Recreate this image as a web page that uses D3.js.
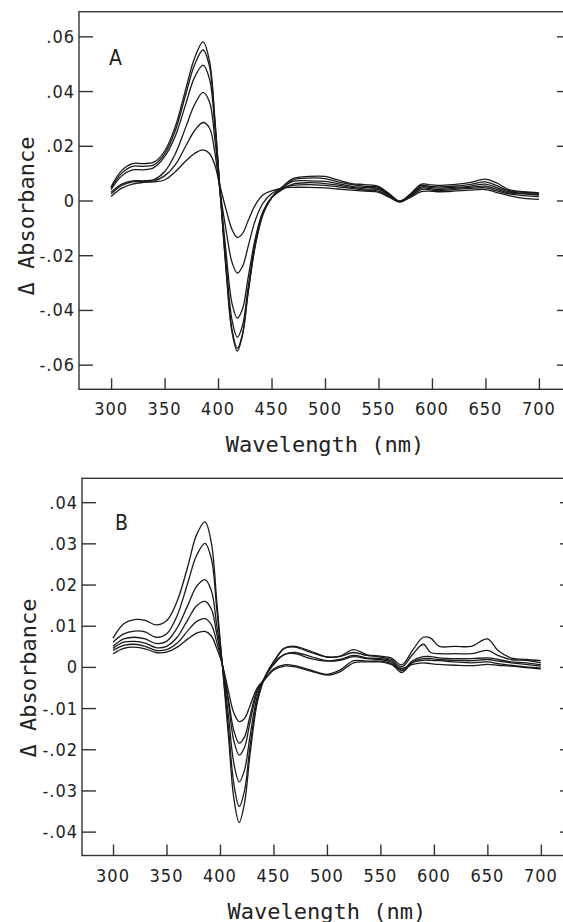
<!DOCTYPE html>
<html>
<head>
<meta charset="utf-8">
<script src="https://cdn.jsdelivr.net/npm/d3@7"></script>
<style>
  body { margin: 0; background: #fff; }
  .tick-label { font-family: "Liberation Sans Narrow", "DejaVu Sans Condensed", sans-serif; font-size: 18px; fill: #222; letter-spacing: 1px; }
  .panel-label { font-family: "Liberation Sans Narrow", "DejaVu Sans Condensed", sans-serif; font-size: 21px; fill: #222; }
  .axis-title { font-family: "DejaVu Sans Mono", monospace; font-size: 22px; fill: #222; }
</style>
</head>
<body>
<svg id="chart" width="563" height="922"></svg>
<script>
// wavelength grid (nm) shared by all traces
var wavelength = [300, 310, 320, 330, 340, 350, 360, 370, 378, 386, 392, 397, 402, 408, 413, 418, 423, 428, 435, 442,
                  450, 460, 470, 485, 500, 512, 525, 537, 550, 560, 570, 580, 590, 597, 605, 620, 635, 650, 660, 672, 686, 700];

// panel A difference spectra
var a1 = [.0015, .0045, .0060, .0066, .0068, .0075, .0105, .0145, .0172, .0185, .0172, .0130, .0050, -.0040, -.0105, -.0135, -.0120, -.0075, -.0015, .0020,
          .0035, .0045, .0048, .0048, .0046, .0042, .0038, .0034, .0030, .0012, -.0005, .0012, .0032, .0034, .0032, .0034, .0038, .0040, .0030, .0018, .0008, .0004];
var a2 = [.0025, .0055, .0068, .0070, .0072, .0090, .0130, .0200, .0255, .0285, .0265, .0175, .0030, -.0120, -.0225, -.0265, -.0240, -.0170, -.0070, -.0010,
          .0025, .0045, .0055, .0058, .0055, .0050, .0044, .0038, .0034, .0015, -.0005, .0015, .0040, .0040, .0036, .0040, .0044, .0046, .0036, .0024, .0018, .0014];
var a3 = [.0030, .0060, .0072, .0072, .0076, .0105, .0170, .0270, .0350, .0395, .0360, .0225, .0030, -.0210, -.0375, -.0430, -.0395, -.0285, -.0135, -.0040,
          .0010, .0040, .0060, .0065, .0062, .0056, .0048, .0042, .0040, .0018, -.0004, .0018, .0045, .0044, .0040, .0044, .0048, .0052, .0042, .0028, .0024, .0020];
var a4 = [.0040, .0090, .0112, .0112, .0120, .0160, .0235, .0355, .0450, .0495, .0445, .0270, .0030, -.0250, -.0435, -.0500, -.0455, -.0320, -.0150, -.0045,
          .0010, .0045, .0070, .0072, .0070, .0062, .0052, .0048, .0044, .0020, -.0003, .0020, .0050, .0048, .0045, .0048, .0052, .0060, .0048, .0032, .0026, .0022];
var a5 = [.0045, .0100, .0125, .0125, .0130, .0170, .0255, .0390, .0495, .0550, .0490, .0290, .0030, -.0270, -.0470, -.0540, -.0485, -.0340, -.0160, -.0050,
          .0010, .0045, .0075, .0082, .0080, .0068, .0058, .0052, .0048, .0022, -.0003, .0022, .0055, .0052, .0050, .0052, .0058, .0068, .0055, .0036, .0030, .0026];
var a6 = [.0050, .0110, .0135, .0135, .0140, .0180, .0270, .0410, .0520, .0580, .0510, .0300, .0030, -.0280, -.0480, -.0550, -.0490, -.0340, -.0160, -.0050,
          .0010, .0050, .0080, .0088, .0088, .0075, .0062, .0058, .0052, .0025, -.0002, .0025, .0060, .0058, .0055, .0058, .0065, .0078, .0065, .0040, .0032, .0028];

// panel B difference spectra
var b1 = [.0032, .0045, .0048, .0044, .0035, .0036, .0048, .0068, .0082, .0086, .0075, .0045, .0008, -.0060, -.0112, -.0133, -.0125, -.0095, -.0050, -.0030,
          -.0008, .0002, .0000, -.0010, -.0020, -.0012, .0010, .0012, .0012, .0006, -.0004, .0006, .0010, .0008, .0006, .0004, .0003, .0006, .0004, .0002, -.0002, -.0005];
var b2 = [.0040, .0052, .0055, .0050, .0040, .0042, .0058, .0088, .0110, .0117, .0102, .0060, .0008, -.0080, -.0155, -.0185, -.0170, -.0120, -.0055, -.0030,
          -.0005, .0005, .0003, -.0008, -.0018, -.0008, .0015, .0014, .0014, .0008, -.0014, .0010, .0016, .0016, .0015, .0012, .0010, .0012, .0008, .0004, .0000, -.0003];
var b3 = [.0045, .0060, .0062, .0058, .0047, .0050, .0072, .0115, .0148, .0159, .0140, .0080, .0010, -.0090, -.0180, -.0214, -.0195, -.0135, -.0060, -.0025,
          .0005, .0030, .0032, .0020, .0014, .0016, .0025, .0020, .0018, .0012, -.0010, .0012, .0020, .0020, .0018, .0016, .0015, .0018, .0014, .0010, .0006, .0002];
var b4 = [.0050, .0068, .0072, .0068, .0057, .0062, .0095, .0150, .0195, .0212, .0185, .0100, .0010, -.0120, -.0235, -.0279, -.0250, -.0170, -.0070, -.0025,
          .0010, .0030, .0035, .0025, .0015, .0018, .0028, .0022, .0020, .0015, -.0008, .0015, .0025, .0025, .0022, .0020, .0020, .0022, .0018, .0012, .0010, .0005];
var b5 = [.0060, .0080, .0087, .0085, .0072, .0080, .0125, .0205, .0270, .0300, .0262, .0140, .0010, -.0150, -.0285, -.0339, -.0300, -.0195, -.0080, -.0025,
          .0012, .0045, .0050, .0038, .0024, .0025, .0035, .0028, .0024, .0018, .0000, .0030, .0055, .0035, .0032, .0032, .0032, .0040, .0028, .0018, .0016, .0010];
var b6 = [.0070, .0105, .0115, .0113, .0102, .0112, .0160, .0245, .0320, .0352, .0300, .0160, .0010, -.0170, -.0320, -.0378, -.0330, -.0215, -.0085, -.0025,
          .0010, .0045, .0048, .0035, .0024, .0026, .0042, .0030, .0026, .0022, .0005, .0040, .0072, .0070, .0050, .0050, .0050, .0068, .0040, .0022, .0018, .0015];

// tick values
var xTicks = [300, 350, 400, 450, 500, 550, 600, 650, 700];
var yTicksA = [-.06, -.04, -.02, 0, .02, .04, .06];
var yTicksB = [-.04, -.03, -.02, -.01, 0, .01, .02, .03, .04];

var svg = d3.select("#chart");

// ".06", "-.02", "0"
function fmtTick(d) {
    if (Math.abs(d) < 1e-9) return "0";
    return d3.format(".2f")(d).replace("0.", ".").replace("−", "-");
}

function drawPanel(p) {
    var x = d3.scaleLinear().domain(p.xDomain).range([p.left, p.right]);
    var y = d3.scaleLinear().domain(p.yDomain).range([p.bottom, p.top]);
    var g = svg.append("g");

    // frame (right side runs off the page like in the scan)
    g.append("rect")
        .attr("x", p.left).attr("y", p.top)
        .attr("width", p.right - p.left).attr("height", p.bottom - p.top)
        .attr("fill", "none").attr("stroke", "#333").attr("stroke-width", 1.4);

    // x ticks point up into the plot
    g.append("g")
        .attr("transform", "translate(0," + p.bottom + ")")
        .call(d3.axisTop(x).tickValues(xTicks).tickSize(11).tickFormat(""))
        .call(function (a) { a.select(".domain").remove(); })
        .selectAll("line").attr("stroke", "#333").attr("stroke-width", 1.4);

    g.selectAll("text.xlab").data(xTicks).enter().append("text")
        .attr("class", "tick-label xlab")
        .attr("x", function (d) { return x(d); })
        .attr("y", p.bottom + 26)
        .attr("text-anchor", "middle")
        .text(function (d) { return d; });

    // y ticks on the left and right, pointing inwards
    g.append("g")
        .attr("transform", "translate(" + p.left + ",0)")
        .call(d3.axisRight(y).tickValues(p.yTicks).tickSize(14).tickFormat(""))
        .call(function (a) { a.select(".domain").remove(); })
        .selectAll("line").attr("stroke", "#333").attr("stroke-width", 1.4);
    g.append("g")
        .attr("transform", "translate(" + p.right + ",0)")
        .call(d3.axisLeft(y).tickValues(p.yTicks).tickSize(14).tickFormat(""))
        .call(function (a) { a.select(".domain").remove(); })
        .selectAll("line").attr("stroke", "#333").attr("stroke-width", 1.4);

    g.selectAll("text.ylab").data(p.yTicks).enter().append("text")
        .attr("class", "tick-label ylab")
        .attr("x", p.left - 4)
        .attr("y", function (d) { return y(d); })
        .attr("dy", "0.36em")
        .attr("text-anchor", "end")
        .text(fmtTick);

    // traces
    var line = d3.line()
        .x(function (d, i) { return x(wavelength[i]); })
        .y(function (d) { return y(d); })
        .curve(d3.curveCatmullRom.alpha(0.5));

    g.selectAll("path.trace").data(p.series).enter().append("path")
        .attr("class", "trace")
        .attr("d", line)
        .attr("fill", "none")
        .attr("stroke", "#1a1a1a")
        .attr("stroke-width", 1.3);

    g.append("text")
        .attr("class", "panel-label")
        .attr("x", p.labelX).attr("y", p.labelY)
        .text(p.label);

    g.append("text")
        .attr("class", "axis-title")
        .attr("x", (x(300) + x(700)) / 2)
        .attr("y", p.bottom + 63)
        .attr("text-anchor", "middle")
        .text("Wavelength (nm)");

    g.append("text")
        .attr("class", "axis-title")
        .attr("transform", "translate(" + p.yTitleX + "," + p.yTitleY + ") rotate(-90)")
        .attr("text-anchor", "middle")
        .text("\u0394 Absorbance");
}

drawPanel({
    label: "A", labelX: 109, labelY: 65,
    left: 79, right: 571, top: 11.7, bottom: 389.3,
    xDomain: [270, 730], yDomain: [-0.069, 0.069],
    yTicks: yTicksA, yTitleX: 34, yTitleY: 216,
    series: [a1, a2, a3, a4, a5, a6]
});

drawPanel({
    label: "B", labelX: 115, labelY: 530,
    left: 82, right: 574, top: 478.3, bottom: 855.5,
    xDomain: [271, 731], yDomain: [-0.0458, 0.0458],
    yTicks: yTicksB, yTitleX: 36, yTitleY: 678,
    series: [b1, b2, b3, b4, b5, b6]
});
</script>
</body>
</html>
